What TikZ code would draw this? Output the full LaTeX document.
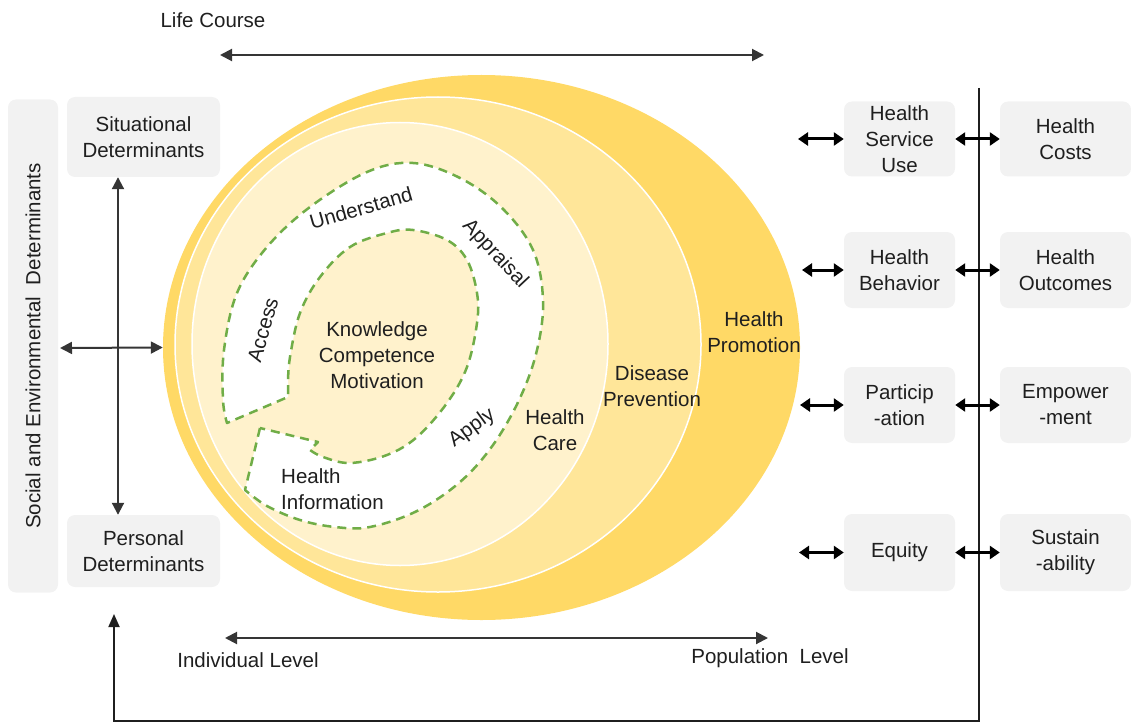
\documentclass[tikz,border=0pt]{standalone}
\usepackage{fontspec}
\setmainfont{Liberation Sans}
\usetikzlibrary{arrows.meta,shapes.geometric}

\definecolor{promo}{HTML}{FFD966}
\definecolor{prev}{HTML}{FFE699}
\definecolor{care}{HTML}{FFF2CC}
\definecolor{boxgray}{HTML}{F2F2F2}
\definecolor{dashgreen}{HTML}{70AD47}
\definecolor{ink}{HTML}{1F1F1F}

\begin{document}
\begin{tikzpicture}[x=1pt,y=-1pt,
  every node/.style={font=\fontsize{20.5}{26}\selectfont, text=ink},
  lbl/.style={align=center, inner sep=0pt},
  gbox/.style={rounded corners=8pt, fill=boxgray, align=center, inner sep=0pt},
  midbox/.style={gbox, minimum width=111pt, minimum height=75pt},
  farbox/.style={gbox, minimum width=131pt, minimum height=75pt},
  detbox/.style={gbox, minimum width=153pt},
  ringshape/.style={ellipse, inner sep=0pt},
  axis/.style={draw=ink!90, line width=2pt,
    {Triangle[length=12pt,width=12pt]}-{Triangle[length=12pt,width=12pt]}},
  link/.style={draw=black, line width=3pt,
    {Triangle[length=10pt,width=13pt]}-{Triangle[length=10pt,width=13pt]}},
  frame/.style={draw=ink, line width=1.8pt},
]
\useasboundingbox (0,0) rectangle (1131,722);

% nested spheres of action
\node[ringshape, fill=promo, minimum width=637pt, minimum height=545pt] (hp) at (481.5,347.5) {};
\node[ringshape, fill=prev, draw=white, line width=1.5pt, minimum width=526pt, minimum height=495pt] (dp) at (438,344.5) {};
\node[ringshape, fill=care, draw=white, line width=1.5pt, minimum width=416pt, minimum height=443pt] (hc) at (400,344) {};

% health literacy processes: open ring around the core
\draw[dashgreen, fill=white, line width=2.5pt, dash pattern=on 9pt off 6pt, line join=round]
  (260,428) -- plot[smooth, tension=0.6] coordinates {
    (245,490) (267,506) (300,520) (335,527) (370,527) (417,511) (460,482)
    (493,445) (520,398) (537,350) (543,300) (533,250) (502,208) (460,178)
    (413,163) (367,172) (310,207) (267,247) (237,293) (224,350) (223,400) (227,423)}
  -- (288,397) -- plot[smooth, tension=0.6] coordinates {
    (288,383) (290,357) (300,313) (320,277) (350,247) (387,233) (413,230)
    (447,240) (467,260) (477,293) (477,323) (467,367) (447,403) (417,437)
    (387,455) (350,463) (323,457) (310,450)}
  -- (318,442) -- cycle;

\node[lbl, rotate=74] (access) at (263,330) {Access};
\node[lbl, rotate=16] (underst) at (361,208) {Understand};
\node[lbl, rotate=-47] (apprais) at (495,254) {Appraisal};
\node[lbl, rotate=36] (apply) at (472,428) {Apply};
\node[lbl, align=left, anchor=west] (hinfo) at (281,489) {Health\\Information};
\node[lbl] (kcm) at (377,355) {Knowledge\\Competence\\Motivation};
\node[lbl] (hcl) at (555,430) {Health\\Care};
\node[lbl] (dpl) at (652,386) {Disease\\Prevention};
\node[lbl] (hpl) at (754,332) {Health\\Promotion};

% life course axis
\node[lbl] (lc) at (213,20) {Life Course};
\coordinate (lcL) at (220,55);
\coordinate (lcR) at (764,55);
\draw[axis] (lcL) -- (lcR);

% individual / population axis
\coordinate (lvL) at (225,638);
\coordinate (lvR) at (768,638);
\draw[axis] (lvL) -- (lvR);
\node[lbl] (ind) at (248,660) {Individual Level};
\node[lbl] (pop) at (770,658) {Population\ \ Level};

% determinants
\node[gbox, rotate=90, minimum width=493pt, minimum height=50pt] (side) at (33,346)
  {Social and Environmental\ \ Determinants};
\node[detbox, minimum height=80pt] (sit) at (143.5,137) {Situational\\Determinants};
\node[detbox, minimum height=72pt] (pers) at (143.5,551) {Personal\\Determinants};
\coordinate (vx) at (118,0);
\draw[axis] (sit.south -| vx) -- (pers.north -| vx);
\coordinate (hl) at (60,348);
\draw[axis] (hl) -- (hp.west);

% outcomes
\node[midbox] (use) at (899.5,139) {Health\\Service\\Use};
\node[midbox, minimum height=76pt] (beh) at (899.5,270) {Health\\Behavior};
\node[midbox, minimum height=76pt] (part) at (899.5,405) {Particip\\-ation};
\node[midbox, minimum height=77pt] (equ) at (899.5,552.5) {Equity};
\node[farbox] (costs) at (1065.5,139) {Health\\Costs};
\node[farbox, minimum height=76pt] (outc) at (1065.5,270) {Health\\Outcomes};
\node[farbox, minimum height=76pt] (emp) at (1065.5,405) {Empower\\-ment};
\node[farbox, minimum height=77pt] (sust) at (1065.5,552.5) {Sustain\\-ability};

\coordinate (useL) at (798,139);
\coordinate (behL) at (802,270);
\coordinate (partL) at (800,405);
\coordinate (equL) at (799,552.5);

% feedback frame
\coordinate (vt) at (979,88);
\coordinate (vb) at (979,721);
\coordinate (bl) at (114,721);
\coordinate (up) at (114,614);
\draw[frame, -{Triangle[length=13pt,width=11pt]}] (vt) -- (vb) -- (bl) -- (up);

\draw[link] (useL) -- (use);
\draw[link] (behL) -- (beh);
\draw[link] (partL) -- (part);
\draw[link] (equL) -- (equ);
\draw[link] (use) -- (costs);
\draw[link] (beh) -- (outc);
\draw[link] (part) -- (emp);
\draw[link] (equ) -- (sust);
\end{tikzpicture}
\end{document}
